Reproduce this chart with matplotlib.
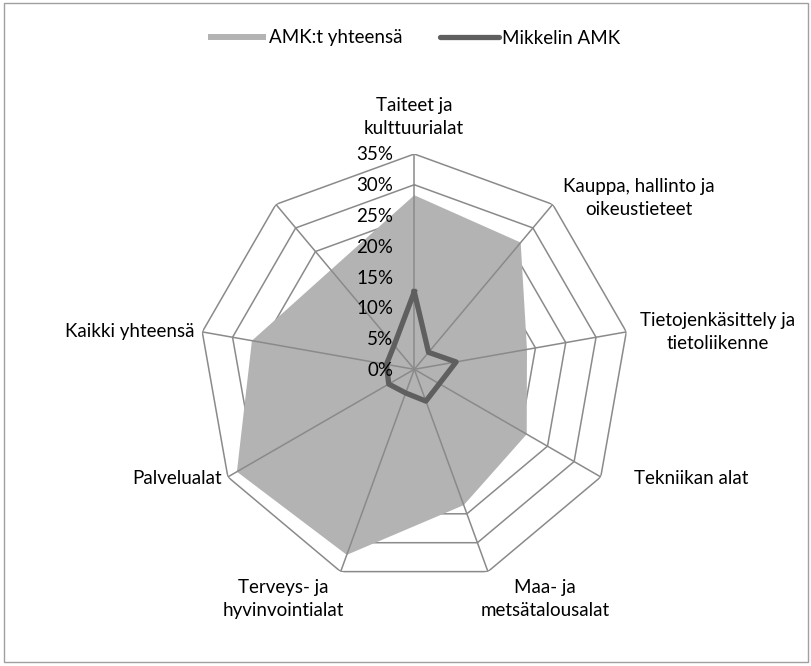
import numpy as np
import matplotlib.pyplot as plt
import matplotlib.transforms as mtransforms
from matplotlib.patches import Rectangle
from matplotlib.lines import Line2D

plt.rcParams['font.family'] = ['Lato', 'DejaVu Sans']

# data (percent), clockwise from the top
categories = ['Taiteet ja\nkulttuurialat', 'Kauppa, hallinto ja\noikeustieteet',
              'Tietojenkäsittely ja\ntietoliikenne', 'Tekniikan alat',
              'Maa- ja\nmetsätalousalat', 'Terveys- ja\nhyvinvointialat',
              'Palvelualat', 'Kaikki yhteensä', '']
amk_total = [28.3, 26.9, 18.6, 21.1, 23.5, 32.1, 33.3, 26.8, 21.1]
mikkeli = [12.6, 3.6, 6.9, 4.7, 5.5, 4.1, 4.8, 4.6, 5.1]
ticks = [0, 5, 10, 15, 20, 25, 30, 35]
series_names = ['AMK:t yhteensä', 'Mikkelin AMK']

# label anchors in pixels (layout only): x, y, horizontal alignment
label_pos = [(414, 117, 'center'), (639, 198, 'center'), (718, 332, 'center'),
             (634, 478, 'left'), (545, 599, 'center'), (283, 599, 'center'),
             (222, 478, 'right'), (195, 332, 'right'), (0, 0, 'center')]

W, H = 812, 666
fig = plt.figure(figsize=(W / 100, H / 100), dpi=100)
cx, cy, R = 414.3, 369.3, 215.3
ax = fig.add_axes([(cx - R) / W, (H - cy - R) / H, 2 * R / W, 2 * R / H],
                  projection='polar')
ax.set_theta_zero_location('N')
ax.set_theta_direction(-1)
ax.set_ylim(0, ticks[-1])
ax.axis('off')

n = len(categories)
theta = np.linspace(0, 2 * np.pi, n, endpoint=False)
closed = np.append(theta, theta[0])
gc = '#8a8a8a'

for lev in ticks[1:]:
    ax.plot(closed, [lev] * (n + 1), color=gc, lw=1.1, zorder=1)
ax.fill(closed, np.append(amk_total, amk_total[0]), color='#b3b3b3', lw=0, zorder=2)
for t in theta:
    ax.plot([t, t], [0, ticks[-1]], color=gc, lw=1.1, zorder=3)
ax.plot(closed, np.append(mikkeli, mikkeli[0]), color='#5f5f5f', lw=3.8,
        solid_joinstyle='round', zorder=4)

fs = 13.5
off = mtransforms.offset_copy(ax.transData, fig=fig, x=-21, y=-1, units='dots')
for lev in ticks:
    ax.text(0, lev, f'{lev}%', transform=off, ha='right', va='center',
            fontsize=fs, color='#000000', zorder=5)

for lab, (px, py, ha) in zip(categories, label_pos):
    if lab:
        fig.text(px / W, 1 - py / H, lab, ha=ha, va='center',
                 fontsize=fs, linespacing=1.4, multialignment='center')

handles = [Line2D([0], [0], color='#b3b3b3', lw=4.3, solid_capstyle='butt'),
           Line2D([0], [0], color='#5f5f5f', lw=3.8, solid_capstyle='round')]
fig.legend(handles, series_names, loc='center', bbox_to_anchor=(414 / W, 1 - 38 / H),
           ncol=2, frameon=False, handlelength=3.1, handletextpad=0.2,
           columnspacing=2.0, fontsize=fs)

fig.add_artist(Rectangle((4 / W, 4 / H), 804 / W, 659 / H, transform=fig.transFigure,
                         fill=False, ec='#a0a0a0', lw=1))

fig.savefig('out.png', dpi=100)
